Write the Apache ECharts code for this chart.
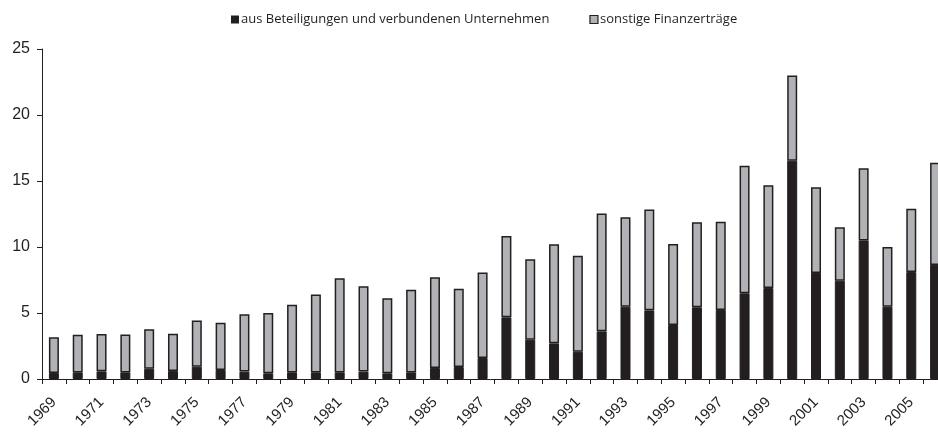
<!DOCTYPE html>
<html>
<head>
<meta charset="utf-8">
<script src="https://cdn.jsdelivr.net/npm/echarts@6/dist/echarts.min.js"></script>
<style>
  html, body { margin: 0; padding: 0; background: #fff; overflow: hidden; }
  #chart { width: 938px; height: 432px; }
</style>
</head>
<body>
<div id="chart"></div>
<script>
// Jahre 1969 - 2006
const years = ['1969', '1970', '1971', '1972', '1973', '1974', '1975', '1976', '1977', '1978',
  '1979', '1980', '1981', '1982', '1983', '1984', '1985', '1986', '1987', '1988',
  '1989', '1990', '1991', '1992', '1993', '1994', '1995', '1996', '1997', '1998',
  '1999', '2000', '2001', '2002', '2003', '2004', '2005', '2006']

// aus Beteiligungen und verbundenen Unternehmen
const beteiligungen = [0.45, 0.5, 0.58, 0.5, 0.78, 0.6, 0.93, 0.68, 0.56, 0.43,
  0.5, 0.5, 0.5, 0.56, 0.43, 0.5, 0.83, 0.91, 1.59, 4.67,
  2.98, 2.7, 2.07, 3.61, 5.48, 5.2, 4.09, 5.43, 5.23, 6.49,
  6.89, 16.54, 8.03, 7.45, 10.5, 5.48, 8.1, 8.64]

// sonstige Finanzerträge
const sonstige = [2.71, 2.86, 2.83, 2.88, 2.98, 2.83, 3.51, 3.59, 4.34, 4.57,
  5.13, 5.91, 7.13, 6.46, 5.68, 6.27, 6.87, 5.93, 6.47, 6.16,
  6.09, 7.5, 7.27, 8.93, 6.77, 7.65, 6.14, 6.44, 6.69, 9.67,
  7.78, 6.46, 6.49, 4.04, 5.46, 4.52, 4.8, 7.75]

const yTicks = [0, 5, 10, 15, 20, 25]

const chart = echarts.init(document.getElementById('chart'))

const option = {
  animation: false,
  backgroundColor: '#fff',
  textStyle: { fontFamily: 'Liberation Sans, Arial, sans-serif' },
  legend: {
    top: 8,
    left: 226,
    itemWidth: 8,
    itemHeight: 8,
    itemGap: 40,
    icon: 'rect',
    textStyle: { fontFamily: 'Open Sans, sans-serif', fontSize: 13, color: '#231f20', padding: [0, 0, 0, -3] },
    data: [
      { name: 'aus Beteiligungen und verbundenen Unternehmen', itemStyle: { color: '#231f20', borderWidth: 0 } },
      { name: 'sonstige Finanzerträge', itemStyle: { color: '#b1b2b5', borderColor: '#231f20', borderWidth: 1.2 } }
    ]
  },
  grid: {
    left: 42,
    width: 905,
    top: 49,
    bottom: 53,
    containLabel: false,
    outerBoundsMode: 'none'
  },
  xAxis: {
    type: 'category',
    data: years,
    axisLine: { lineStyle: { color: '#231f20', width: 1 } },
    axisTick: { show: true, alignWithLabel: false, interval: 0, length: 5, lineStyle: { color: '#231f20' } },
    axisLabel: {
      interval: 1,
      rotate: 45,
      fontSize: 15,
      color: '#231f20',
      margin: 21
    }
  },
  yAxis: {
    type: 'value',
    min: yTicks[0],
    max: yTicks[yTicks.length - 1],
    interval: 5,
    splitLine: { show: false },
    axisLine: { show: true, lineStyle: { color: '#231f20', width: 1 } },
    axisTick: { show: true, length: 5, lineStyle: { color: '#231f20' } },
    axisLabel: { fontSize: 16, color: '#231f20', margin: 12 }
  },
  series: [
    {
      name: 'aus Beteiligungen und verbundenen Unternehmen',
      type: 'bar',
      stack: 'fin',
      barWidth: 10,
      data: beteiligungen,
      itemStyle: { color: '#231f20', borderColor: '#231f20', borderWidth: 1 }
    },
    {
      name: 'sonstige Finanzerträge',
      type: 'bar',
      stack: 'fin',
      barWidth: 10,
      data: sonstige,
      itemStyle: { color: '#b1b2b5', borderColor: '#231f20', borderWidth: 1.5 }
    }
  ]
}

chart.setOption(option)
</script>
</body>
</html>
